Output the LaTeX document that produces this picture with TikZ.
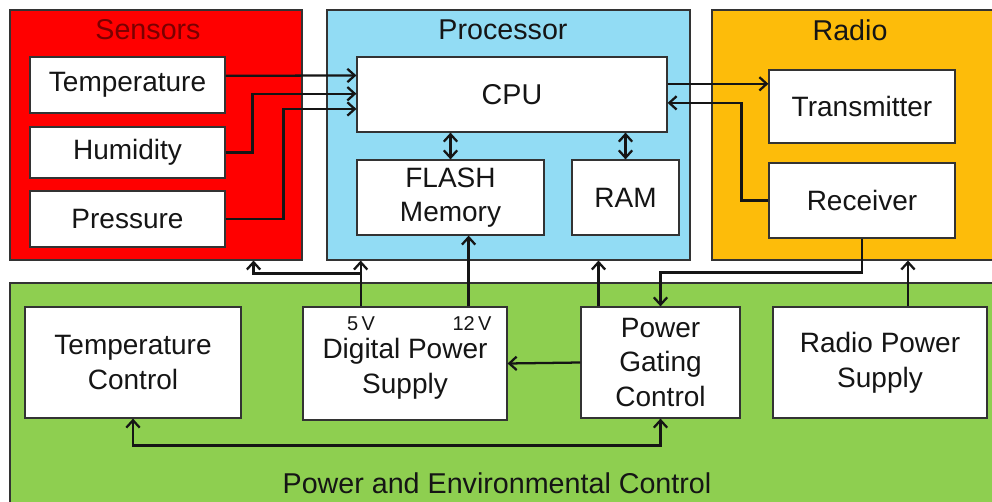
\documentclass[tikz,border=0pt]{standalone}
\usepackage{fontspec}
\setmainfont{Liberation Sans}
\usetikzlibrary{arrows.meta,calc,fit}
\definecolor{sensred}{HTML}{FF0000}
\definecolor{sensdark}{HTML}{7A0000}
\definecolor{procblue}{HTML}{92DCF4}
\definecolor{radioorg}{HTML}{FDBC0A}
\definecolor{pwrgreen}{HTML}{8ECF50}
\definecolor{edge}{HTML}{333333}
\definecolor{ink}{HTML}{151515}
\begin{document}
\begin{tikzpicture}[x=0.75pt,y=-0.75pt,
  region/.style={draw=edge,line width=0.8pt,inner sep=0pt},
  wbox/.style={draw=edge,fill=white,line width=0.9pt,inner sep=0pt,align=center,text=ink,font=\fontsize{21}{26}\selectfont},
  ttl/.style={text=ink,font=\fontsize{21.5}{26}\selectfont},
  volt/.style={text=ink,font=\fontsize{15}{18}\selectfont},
  arr/.style={draw=ink,line width=1.7pt,-{Straight Barb[length=5.5pt,width=10pt]}},
  arrr/.style={draw=ink,line width=1.7pt,{Straight Barb[length=5.5pt,width=10pt]}-{Straight Barb[length=5.5pt,width=10pt]}}]
\useasboundingbox (0,0) rectangle (992,502);
\fill[white] (0,0) rectangle (992,502);
% regions
\node[region,fill=sensred,fit={(10,10) (302,260)}] (sens) {};
\node[region,fill=procblue,fit={(327,10) (690,260)}] (proc) {};
\node[region,fill=radioorg,fit={(712,10) (993,260)}] (radio) {};
\node[region,fill=pwrgreen,fit={(10,283) (993,503)}] (pwr) {};
% titles
\node[ttl,text=sensdark] (tsens) at (148,30) {Sensors};
\node[ttl] (tproc) at (503,30) {Processor};
\node[ttl] (tradio) at (850,30) {Radio};
\node[ttl] (tpwr) at (497,483) {Power and Environmental Control};
% sensors
\node[wbox,fit={(30,57) (225,113)}] (temp) {};
\node[ttl,font=\fontsize{21}{26}\selectfont] at (temp.center) {Temperature};
\node[wbox,fit={(30,127) (225,178)}] (hum) {};
\node[ttl,font=\fontsize{21}{26}\selectfont] at (hum.center) {Humidity};
\node[wbox,fit={(30,191) (225,247)}] (pres) {};
\node[ttl,font=\fontsize{21}{26}\selectfont] at (pres.center) {Pressure};
% processor
\node[wbox,fit={(357,57) (667,132)}] (cpu) {};
\node[ttl,font=\fontsize{21.5}{26}\selectfont] at (cpu.center) {CPU};
\node[wbox,fit={(357,160) (544,235)}] (flash) {};
\node[ttl,align=center,font=\fontsize{21}{26}\selectfont] at (flash.center) {FLASH\\Memory};
\node[wbox,fit={(572,160) (679,235)}] (ram) {};
\node[ttl,font=\fontsize{21}{26}\selectfont] at (ram.center) {RAM};
% radio
\node[wbox,fit={(769,70) (955,143)}] (tx) {};
\node[ttl,font=\fontsize{21}{26}\selectfont] at (tx.center) {Transmitter};
\node[wbox,fit={(769,163) (955,238)}] (rx) {};
\node[ttl,font=\fontsize{21}{26}\selectfont] at (rx.center) {Receiver};
% power
\node[wbox,fit={(25,307) (241,418)}] (tc) {};
\node[ttl,align=center,font=\fontsize{21}{26}\selectfont] at (tc.center) {Temperature\\Control};
\node[wbox,fit={(303,307) (507,420)}] (dps) {};
\node[ttl,align=center,font=\fontsize{21}{26}\selectfont] at ($(dps.center)+(0,5)$) {Digital Power\\Supply};
\node[volt] (v5lab) at (361,324) {5\,V};
\node[volt] (v12lab) at (472,324) {12\,V};
\node[wbox,fit={(581,307) (740,418)}] (pgc) {};
\node[ttl,align=center,font=\fontsize{21}{26}\selectfont] at (pgc.center) {Power\\Gating\\Control};
\node[wbox,fit={(773,307) (987,418)}] (rps) {};
\node[ttl,align=center,font=\fontsize{21}{26}\selectfont] at (rps.center) {Radio Power\\Supply};
% coordinates
\coordinate (ct) at ($(temp.north east)!0.34!(temp.south east)$);
\coordinate (c1) at ($(cpu.north west)!0.25!(cpu.south west)$);
\coordinate (c2) at ($(cpu.north west)!0.49!(cpu.south west)$);
\coordinate (c3) at ($(cpu.north west)!0.69!(cpu.south west)$);
\coordinate (co) at ($(cpu.north east)!0.36!(cpu.south east)$);
\coordinate (ci) at ($(cpu.north east)!0.61!(cpu.south east)$);
\coordinate (v5) at ($(dps.north west)!0.284!(dps.north east)$);
\coordinate (v12) at ($(dps.north west)!0.81!(dps.north east)$);
\coordinate (j5) at ($(v5)+(0,-33)$);
\coordinate (sin) at ($(sens.south east)+(-49,0)$);
\coordinate (pg1) at ($(pgc.north west)!0.113!(pgc.north east)$);
\coordinate (rp) at ($(rps.north west)!0.63!(rps.north east)$);
% connectors
\draw[arr] (ct) -- (c1 -| cpu.west);
\draw[arr] (hum.east) -- ++(27,0) |- (c2);
\draw[arr] (pres.east) -- ++(58,0) |- (c3);
\draw[arr] (co) -- (co -| tx.west);
\draw[arr] (rx.west) -- ++(-27,0) |- (ci);
\draw[arrr] (flash.north) -- (flash.north |- cpu.south);
\draw[arrr] (ram.north) -- (ram.north |- cpu.south);
\draw[arr] (v5) -- (v5 |- proc.south);
\draw[arr] (j5) -| (sin);
\draw[arr] (v12) -- (v12 |- flash.south);
\draw[arr] (pg1) -- (pg1 |- proc.south);
\draw[arr] (rx.south) -- ++(0,34) -| (pgc.north);
\draw[arr] (rp) -- (rp |- radio.south);
\draw[arr] (pgc.west) -- (dps.east);
\draw[arrr] (tc.south) -- ++(0,27) -| (pgc.south);
\end{tikzpicture}
\end{document}
